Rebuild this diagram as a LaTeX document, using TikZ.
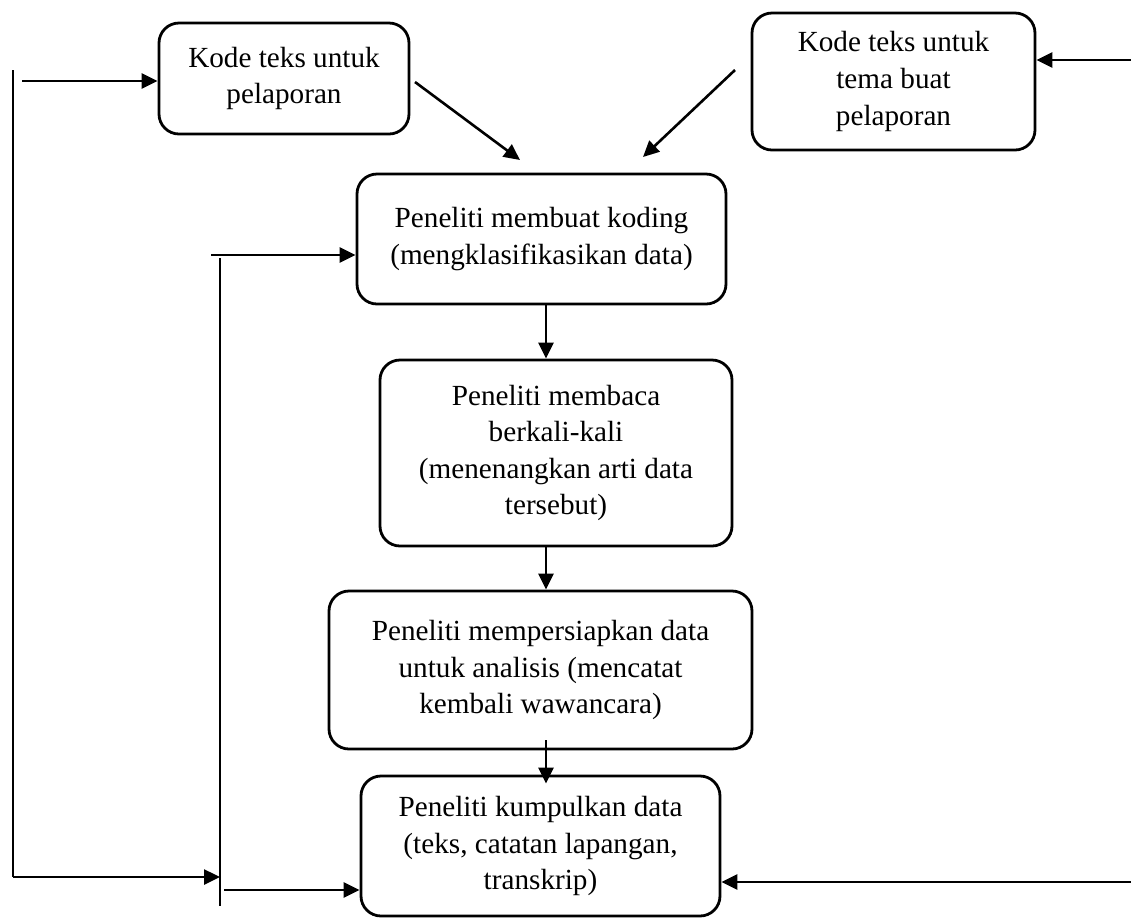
\documentclass[tikz,border=0pt]{standalone}
\usepackage{fontspec}
\setmainfont{Liberation Serif}
\usetikzlibrary{arrows.meta,calc}

\begin{document}
\begin{tikzpicture}[x=0.5pt, y=-0.5pt, >={Triangle[length=8pt,width=7.5pt]},
          box/.style={draw, line width=1.4pt, rounded corners=10pt, align=center, inner sep=0pt, font=\fontsize{14.6}{18.3}\selectfont},
          arr/.style={->, line width=1.3pt},
          rail/.style={line width=0.6pt}]
        \useasboundingbox (0,0) rectangle (1131,918);
        \node[box, minimum width=125pt, minimum height=55.5pt] (kodeLap) at (284,78.5) {Kode teks untuk\\ pelaporan};
        \node[box, minimum width=141.5pt, minimum height=68.5pt] (kodeTema) at (893.5,81.5) {Kode teks untuk\\ tema buat\\ pelaporan};
        \node[box, minimum width=184.5pt, minimum height=65pt] (koding) at (541.5,239) {Peneliti membuat koding\\ (mengklasifikasikan data)};
        \node[box, minimum width=176pt, minimum height=93pt] (baca) at (556,453) {Peneliti membaca\\ berkali-kali\\ (menenangkan arti data\\ tersebut)};
        \node[box, minimum width=211.5pt, minimum height=79pt] (siap) at (540.5,670) {Peneliti mempersiapkan data\\ untuk analisis (mencatat\\ kembali wawancara)};
        \node[box, minimum width=179.5pt, minimum height=70pt] (kumpul) at (540.5,846) {Peneliti kumpulkan data\\ (teks, catatan lapangan,\\ transkrip)};
        \coordinate (spine) at (546,0);
        \draw[arr] (spine |- koding.south) -- (spine |- baca.north);
        \draw[arr] (spine |- baca.south) -- (spine |- siap.north);
        \draw[arr] ($(siap.south -| spine)+(0,-10)$) -- ($(kumpul.north -| spine)+(0,9)$);
        \coordinate (dA1) at (415,82); \coordinate (dA2) at (520,160);
        \coordinate (dB1) at (735,70); \coordinate (dB2) at (643,157);
        \draw[arr] (dA1) -- (dA2);
        \draw[arr] (dB1) -- (dB2);
        \coordinate (railL1) at (13,70); \coordinate (railL2) at (13,877);
        \coordinate (railM1) at (220,258); \coordinate (railM2) at (220,906);
        \draw[rail] (railL1) -- (railL2);
        \draw[rail] (railM1) -- (railM2);
        \coordinate (inA) at (22,81);
        \draw[arr] (inA) -- (inA -| kodeLap.west);
        \draw[arr] (railL2) -- (railL2 -| railM1);
        \coordinate (inC) at (211,255);
        \draw[arr] (inC) -- (inC -| koding.west);
        \coordinate (inF) at (224,890);
        \draw[arr] (inF) -- (inF -| kumpul.west);
        \coordinate (inB) at (1131,60);
        \draw[arr] (inB) -- (inB -| kodeTema.east);
        \coordinate (inFr) at (1131,882);
        \draw[arr] (inFr) -- (inFr -| kumpul.east);
      \end{tikzpicture}
\end{document}
